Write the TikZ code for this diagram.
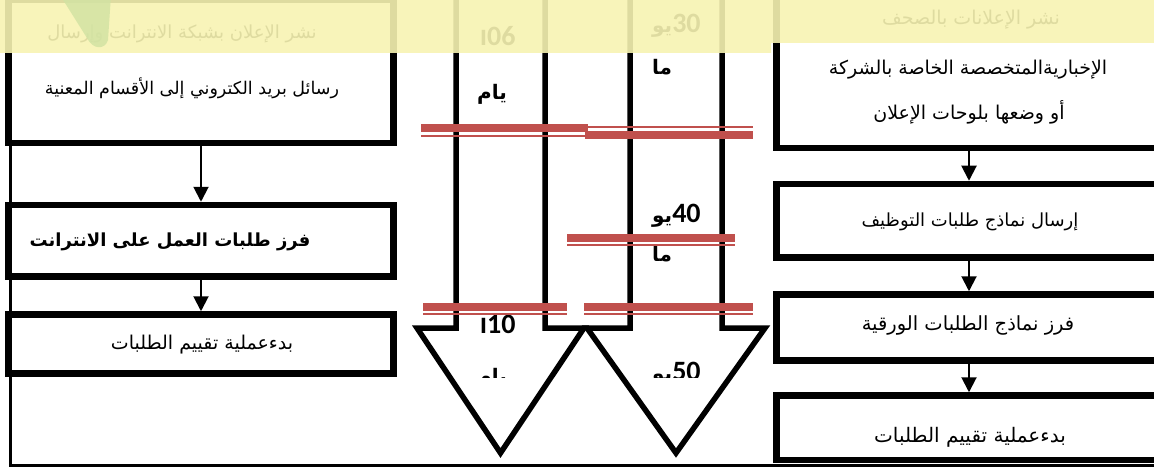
\documentclass[tikz,border=0pt]{standalone}
\usepackage{fontspec}
\usetikzlibrary{arrows.meta,fit}
\TeXXeTstate=1
\newfontfamily\arabicfont[Script=Arabic]{DejaVu Sans}
\newfontfamily\numfont{Carlito}
\newcommand{\rl}[1]{\beginR#1\endR}
\newcommand{\dnum}[1]{{\numfont\fontsize{28}{30}\selectfont#1}}
\newcommand{\dword}[1]{{\arabicfont\fontsize{20}{24}\selectfont#1}}
\definecolor{redline}{RGB}{192,80,77}
\definecolor{bandyellow}{RGB}{247,243,178}
\definecolor{bandgreen}{RGB}{210,227,163}

\begin{document}
\begin{tikzpicture}[x=1pt, y=-1pt,
    box/.style={draw, line width=6.5pt, inner sep=0pt},
    txt/.style={font=\arabicfont\fontsize{19}{23}\selectfont, inner sep=0pt},
    flow/.style={line width=2pt, -{Triangle[width=15pt,length=15pt]}},
    bigarrow/.style={draw, fill=white, line width=5.5pt, miter limit=10},
    days/.style={anchor=base west, inner sep=0pt, font=\bfseries},
    dbl/.style={draw=redline, line width=8pt},
    dblthin/.style={draw=redline, line width=2.5pt}]

  \path[use as bounding box, clip] (0,0) rectangle (1154,468);

  % page frame
  \draw[line width=3pt] (10,-20) rectangle (1180,465);

  % Left column: online route
  \node[box, fit={(8.5,0) (393.5,143)}] (mail) {};
  \node[box, fit={(8.5,205) (393.5,276.5)}] (sortweb) {};
  \node[box, fit={(8.5,314.5) (393.5,373.5)}] (evalweb) {};
  \node[txt, font=\arabicfont\fontsize{18}{22}\selectfont] (mailtop) at (182,34) {\rl{نشر الإعلان بشبكة الانترانت وإرسال}};
  \node[txt, font=\arabicfont\fontsize{17.5}{22}\selectfont] (mailbot) at (192,88) {\rl{رسائل بريد الكتروني إلى الأقسام المعنية}};
  \node[txt, font=\arabicfont\bfseries\fontsize{18}{22}\selectfont] (sortwebtxt) at (170,242) {\rl{فرز طلبات العمل على الانترانت}};
  \node[txt] (evalwebtxt) at (202,345) {\rl{بدءعملية تقييم الطلبات}};

  \draw[flow] (mail) -- (sortweb);
  \draw[flow] (sortweb) -- (evalweb);

  % Right column: newspaper route
  \node[box, fit={(776.5,-10) (1161.5,148)}] (press) {};
  \node[box, fit={(776.5,184) (1161.5,257.5)}] (forms) {};
  \node[box, fit={(776.5,294.5) (1161.5,360.5)}] (sortpaper) {};
  \node[box, fit={(776.5,395.5) (1161.5,460)}] (evalpaper) {};
  \node[txt] (presstop) at (971,20) {\rl{نشر الإعلانات بالصحف}};
  \node[txt] (pressmid) at (968,70) {\rl{الإخباريةالمتخصصة الخاصة بالشركة}};
  \node[txt] (pressbot) at (969,112) {\rl{أو وضعها بلوحات الإعلان}};
  \node[txt, font=\arabicfont\fontsize{18}{22}\selectfont] (formstxt) at (970,222) {\rl{إرسال نماذج طلبات التوظيف}};
  \node[txt, font=\arabicfont\fontsize{19.5}{23}\selectfont] (sortpapertxt) at (968,325) {\rl{فرز نماذج الطلبات الورقية}};
  \node[txt, font=\arabicfont\fontsize{20}{24}\selectfont] (evalpapertxt) at (970,437) {\rl{بدءعملية تقييم الطلبات}};

  \draw[flow] (press) -- (forms);
  \draw[flow] (forms) -- (sortpaper);
  \draw[flow] (sortpaper) -- (evalpaper);

  % Time arrows
  \draw[bigarrow] (456,-20) -- (456,328) -- (417,328) -- (500.5,453)
    -- (584,328) -- (545,328) -- (545,-20);
  \draw[bigarrow] (630,-20) -- (630,328) -- (587,328) -- (676,453)
    -- (765,328) -- (722,328) -- (722,-20);

  \node[days] (d60) at (480,46) {\dword{ا}\dnum{06}};
  \node[days] (d60b) at (477,100) {\dword{يام}};
  \node[days] (d30) at (652,33) {\dword{يو}\dnum{30}};
  \node[days] (d30b) at (652,75) {\dword{ما}};
  \node[days] (d40) at (652,222) {\dword{يو}\dnum{40}};
  \node[days] (d40b) at (652,261) {\dword{ما}};
  \node[days] (d10) at (480,333) {\dword{ا}\dnum{10}};
  \begin{scope}
    \clip (400,290) rectangle (780,377);
    \node[days] (d10b) at (477,383) {\dword{يام}};
    \node[days] (d50) at (652,380) {\dword{يو}\dnum{50}};
  \end{scope}

  % Red double marks
  \foreach \xa/\xb/\ya/\yb in {421/588/128/136, 585/753/135.5/127,
      567/735/237.5/245, 423/567/306.5/314, 584/753/306.5/314} {
    \draw[dbl] (\xa,\ya) -- (\xb,\ya);
    \draw[dblthin] (\xa,\yb) -- (\xb,\yb);
  }

  % Highlight band
  \fill[bandyellow, opacity=0.9] (-5,-5) -- (-5,53) -- (771,53) -- (771,43)
    -- (1160,43) -- (1160,-5) -- cycle;
  \fill[bandgreen, opacity=0.85] (60,-5) -- (87,38)
    .. controls (93,50) and (105,50) .. (108,40) -- (111,-5) -- cycle;

\end{tikzpicture}
\end{document}
